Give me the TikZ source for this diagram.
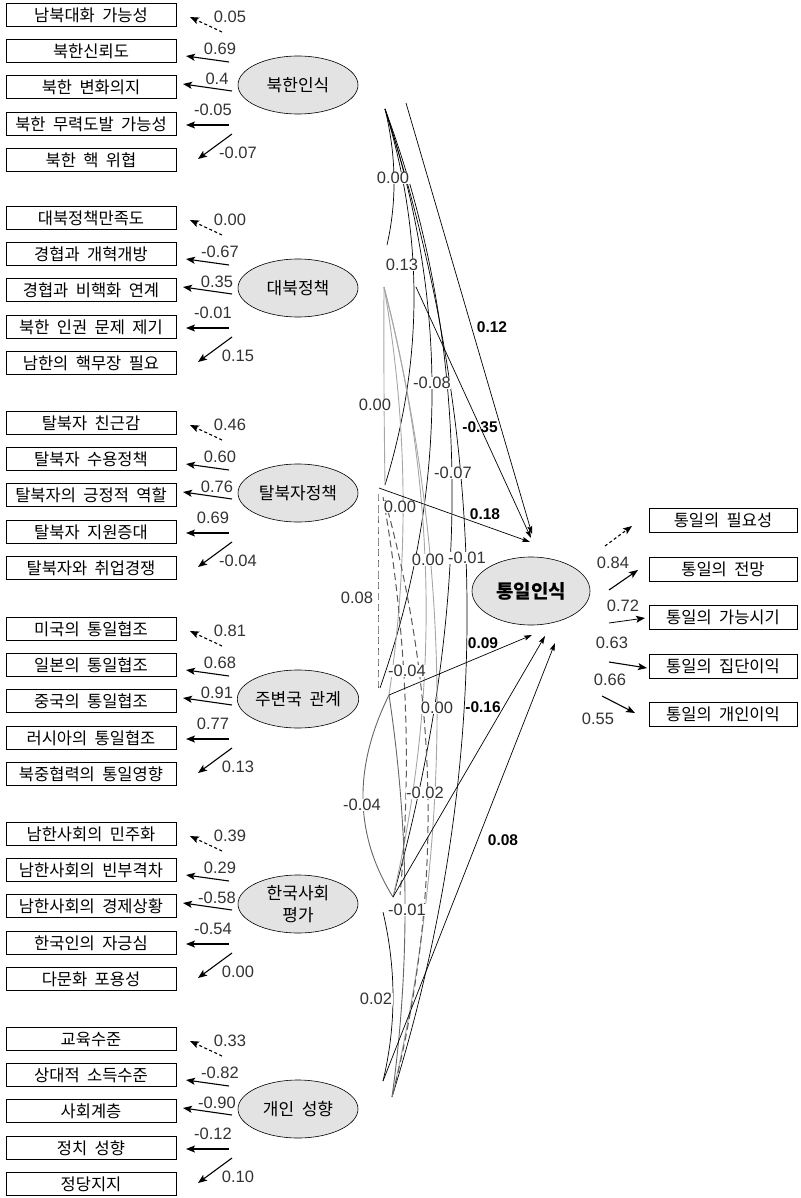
\documentclass[tikz,border=0pt]{standalone}
\usepackage{fontspec}
\setmainfont{Liberation Sans}
\newfontfamily\kr[WordSpace=2]{Noto Sans CJK KR}
\usetikzlibrary{arrows.meta,calc,shapes.geometric}
\newcommand\grp[8]{%
  \node[ind] (#1b1) at (91,#2-72) {#4};
  \node[ind] (#1b2) at (91,#2-36) {#5};
  \node[ind] (#1b3) at (91,#2) {#6};
  \node[ind] (#1b4) at (91,#2+37) {#7};
  \node[ind] (#1b5) at (91,#2+73) {#8};
  \node[lat] (#1) at (298,#2-2) {#3};
}
\newcommand\grparr[7]{%
  \coordinate (#1t1) at (222,#2-55); \coordinate (#1h1) at (190,#2-70);
  \coordinate (#1t2) at (229,#2-25); \coordinate (#1h2) at (186,#2-31);
  \coordinate (#1t3) at (232,#2+4);  \coordinate (#1h3) at (183,#2-3);
  \coordinate (#1t4) at (229,#2+38); \coordinate (#1h4) at (186,#2+38);
  \coordinate (#1t5) at (232,#2+47); \coordinate (#1h5) at (198,#2+72);
  \draw[ldd] (#1t1) -- (#1h1);
  \draw[ld] (#1t2) -- (#1h2);
  \draw[ld] (#1t3) -- (#1h3);
  \draw[ld] (#1t4) -- (#1h4);
  \draw[ld] (#1t5) -- (#1h5);
  \node[num] (#1l1) at (230,#2-70) {#3};
  \node[num] (#1l2) at (220,#2-38) {#4};
  \node[num] (#1l3) at (217,#2-8) {#5};
  \node[num] (#1l4) at (213,#2+23) {#6};
  \node[num] (#1l5) at (238,#2+66) {#7};
}
\newcommand\qcurve[4]{%
  \coordinate (qq) at ($2*(#3)-0.5*(#2)-0.5*(#4)$);
  \draw[#1] (#2) .. controls ($(#2)!2/3!(qq)$) and ($(#4)!2/3!(qq)$) .. (#4);
}
\begin{document}
\begin{tikzpicture}[x=1pt,y=-1pt,
  ind/.style={draw,line width=1pt,minimum width=170pt,minimum height=23pt,inner sep=0pt,font=\kr\fontsize{16.5}{18}\selectfont},
  rind/.style={ind,minimum width=148pt,minimum height=24pt},
  lat/.style={ellipse,draw,line width=0.6pt,fill=black!11,minimum width=120pt,minimum height=58pt,inner sep=0pt,align=center,font=\kr\fontsize{17}{22}\selectfont},
  ld/.style={line width=1.1pt,-{Stealth[length=9pt,width=7pt,inset=2pt]}},
  ldd/.style={ld,dash pattern=on 3pt off 2.5pt},
  num/.style={font=\fontsize{16.5}{18}\selectfont,text=black!80,inner sep=0.5pt},
  cnum/.style={num,fill=white},
  pnum/.style={font=\bfseries\fontsize{15.5}{18}\selectfont,inner sep=0.5pt},
  pth/.style={line width=0.7pt,-{Stealth[length=8pt,width=5pt,inset=1.5pt]}},
  cor/.style={line width=0.7pt,draw=black},
  gcor/.style={line width=0.9pt,draw=black!35},
  dcor/.style={line width=1pt,draw=black!65,dash pattern=on 7pt off 4pt},
  mcor/.style={line width=0.9pt,draw=black!60}]
\useasboundingbox (0,0) rectangle (800,1198);

% ---- left measurement groups ----
\grp{n1}{87}{북한인식}{남북대화 가능성}{북한신뢰도}{북한 변화의지}{북한 무력도발 가능성}{북한 핵 위협}
\grparr{n1}{87}{0.05}{0.69}{0.4}{-0.05}{-0.07}
\grp{n2}{290}{대북정책}{대북정책만족도}{경협과 개혁개방}{경협과 비핵화 연계}{북한 인권 문제 제기}{남한의 핵무장 필요}
\grparr{n2}{290}{0.00}{-0.67}{0.35}{-0.01}{0.15}
\grp{n3}{495}{탈북자정책}{탈북자 친근감}{탈북자 수용정책}{탈북자의 긍정적 역할}{탈북자 지원증대}{탈북자와 취업경쟁}
\grparr{n3}{495}{0.46}{0.60}{0.76}{0.69}{-0.04}
\grp{n4}{701}{주변국 관계}{미국의 통일협조}{일본의 통일협조}{중국의 통일협조}{러시아의 통일협조}{북중협력의 통일영향}
\grparr{n4}{701}{0.81}{0.68}{0.91}{0.77}{0.13}
\grp{n5}{906}{한국사회\\평가}{남한사회의 민주화}{남한사회의 빈부격차}{남한사회의 경제상황}{한국인의 자긍심}{다문화 포용성}
\grparr{n5}{906}{0.39}{0.29}{-0.58}{-0.54}{0.00}
\grp{n6}{1111}{개인 성향}{교육수준}{상대적 소득수준}{사회계층}{정치 성향}{정당지지}
\grparr{n6}{1111}{0.33}{-0.82}{-0.90}{-0.12}{0.10}

% ---- anchors of the middle structure ----
\coordinate (a1) at (385,109);
\coordinate (a1p) at (406,103);
\coordinate (a2u) at (387,245);
\coordinate (a2) at (384,287);
\coordinate (a2p) at (416,287);
\coordinate (a3t) at (385,485);
\coordinate (a3) at (379,488);
\coordinate (a3d) at (378,494);
\coordinate (a3e) at (383,497);
\coordinate (a3f) at (385,500);
\coordinate (a4u) at (380,688);
\coordinate (a4d) at (378,688);
\coordinate (a4) at (389,695);
\coordinate (a5) at (393,897);
\coordinate (a5e) at (400,895);
\coordinate (a5d) at (383,912);
\coordinate (a6p) at (383,1081);
\coordinate (a6) at (392,1097);

% ---- correlations ----
\qcurve{cor}{a1}{394,178}{a2u}
\qcurve{cor}{a1}{414,297}{a3t}
\qcurve{cor}{a1}{432,398}{a4u}
\qcurve{cor}{a1}{452,480}{a5}
\qcurve{cor}{a1}{467,603}{a6}
\qcurve{gcor}{a2}{384,386}{a3t}
\qcurve{gcor}{a2}{403,490}{a4}
\qcurve{gcor}{a2}{426,592}{a5}
\qcurve{gcor}{a2}{437,692}{a6}
\qcurve{dcor}{a3d}{378,590}{a4d}
\qcurve{dcor}{a3e}{405,697}{a5e}
\qcurve{dcor}{a3f}{428,800}{a6}
\qcurve{mcor}{a4}{363,800}{a5}
\qcurve{mcor}{a4}{405,897}{a6}
\qcurve{cor}{a5d}{393,997}{a6p}

\node[cnum] (c1) at (393,178) {0.00};
\node[cnum] (c2) at (402,265) {0.13};
\node[cnum] (c3) at (432,383) {-0.08};
\node[cnum] (c4) at (453,473) {-0.07};
\node[cnum] (c5) at (467,558) {-0.01};
\node[cnum] (c6) at (375,405) {0.00};
\node[cnum] (c7) at (400,507) {0.00};
\node[cnum] (c8) at (428,560) {0.00};
\node[cnum] (c9) at (437,708) {0.00};
\node[num]  (c10) at (357,598) {0.08};
\node[cnum] (c11) at (407,671) {-0.04};
\node[cnum] (c12) at (425,793) {-0.02};
\node[cnum] (c13) at (362,805) {-0.04};
\node[cnum] (c14) at (407,910) {-0.01};
\node[cnum] (c15) at (376,999) {0.02};

% ---- endogenous latent ----
\node[lat,minimum width=118pt,minimum height=68pt,font=\kr\bfseries\fontsize{19}{21}\selectfont] (u) at (531,591) {통일인식};
\coordinate (e1) at (532,534);
\coordinate (e2) at (531,538);
\coordinate (e3) at (530,542);
\coordinate (e4) at (532,635);
\coordinate (e5) at (545,636);
\coordinate (e6) at (555,643);

\draw[pth] (a1p) -- (e1);
\draw[pth] (a2p) -- (e2);
\draw[pth] (a3) -- (e3);
\draw[pth] (a4) -- (e4);
\draw[pth] (a5) -- (e5);
\draw[pth] (a6p) -- (e6);
\node[pnum] (p1) at (492,327) {0.12};
\node[pnum] (p2) at (480,427) {-0.35};
\node[pnum] (p3) at (485,514) {0.18};
\node[pnum] (p4) at (483,643) {0.09};
\node[pnum] (p5) at (483,707) {-0.16};
\node[pnum] (p6) at (503,840) {0.08};

% ---- right indicators ----
\node[rind] (r1) at (723,520) {통일의 필요성};
\node[rind] (r2) at (723,569) {통일의 전망};
\node[rind] (r3) at (723,617) {통일의 가능시기};
\node[rind] (r4) at (723,666) {통일의 집단이익};
\node[rind] (r5) at (723,714) {통일의 개인이익};
\coordinate (rt1) at (605,546); \coordinate (rh1) at (632,526);
\coordinate (rt2) at (609,590); \coordinate (rh2) at (638,570);
\coordinate (rt3) at (609,623); \coordinate (rh3) at (645,618);
\coordinate (rt4) at (609,662); \coordinate (rh4) at (647,668);
\coordinate (rt5) at (602,696); \coordinate (rh5) at (635,713);
\draw[ldd] (rt1) -- (rh1);
\draw[ld] (rt2) -- (rh2);
\draw[ld,line width=0.8pt] (rt3) -- (rh3);
\draw[ld] (rt4) -- (rh4);
\draw[ld] (rt5) -- (rh5);
\node[num] (rl2) at (613,563) {0.84};
\node[num] (rl3) at (623,606) {0.72};
\node[num] (rl4) at (612,643) {0.63};
\node[num] (rl5) at (610,680) {0.66};
\node[num] (rl6) at (598,719) {0.55};
\end{tikzpicture}
\end{document}
